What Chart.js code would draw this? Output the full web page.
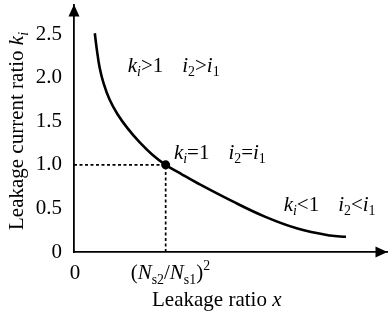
<!DOCTYPE html>
<html><head><meta charset="utf-8">
<script src="https://cdn.jsdelivr.net/npm/chart.js@4/dist/chart.umd.min.js"></script>
<style>html,body{margin:0;padding:0;background:#fff}#wrap{width:392px;height:321px}</style>
</head><body><div id="wrap"><canvas id="c" width="392" height="321"></canvas></div>
<script>
// ---- data ----
const curveX = [0.227, 0.248, 0.280, 0.324, 0.388, 0.475, 0.583, 0.712, 0.852, 1.000, 1.176, 1.359, 1.715, 2.082, 2.438, 2.794, 2.967];
const curveK = [2.51, 2.331, 2.114, 1.931, 1.749, 1.580, 1.421, 1.263, 1.120, 1.000, 0.891, 0.783, 0.589, 0.406, 0.269, 0.189, 0.175];
const pointX = [1.0];   // (Ns2/Ns1)^2
const pointK = [1.0];
const xRange = [0, 3.42];
const yRange = [0, 2.84];
const yTicks = [0, 0.5, 1.0, 1.5, 2.0, 2.5];
const yTickLabels = ['0', '0.5', '1.0', '1.5', '2.0', '2.5'];
const xTickValues = [0, 1.0];
const xTickLabels = [
  [{t:'0'}],
  [{t:'('},{t:'N',i:1},{t:'s2',sub:1},{t:'/'},{t:'N',i:1},{t:'s1',sub:1},{t:')'},{t:'2',sup:1}]
];
const xTitle = [{t:'Leakage ratio '},{t:'x',i:1}];
const yTitle = [{t:'Leakage current ratio '},{t:'k',i:1},{t:'i',i:1,sub:1}];
const regionLabels = [
  {x:0.586, k:2.069, a:[{t:'k',i:1},{t:'i',i:1,sub:1},{t:'>1'}], b:[{t:'i',i:1},{t:'2',sub:1},{t:'>'},{t:'i',i:1},{t:'1',sub:1}]},
  {x:1.090, k:1.071, a:[{t:'k',i:1},{t:'i',i:1,sub:1},{t:'=1'}], b:[{t:'i',i:1},{t:'2',sub:1},{t:'='},{t:'i',i:1},{t:'1',sub:1}]},
  {x:2.287, k:0.472, a:[{t:'k',i:1},{t:'i',i:1,sub:1},{t:'<1'}], b:[{t:'i',i:1},{t:'2',sub:1},{t:'<'},{t:'i',i:1},{t:'1',sub:1}]}
];

const FONT = '"Liberation Serif", "Times New Roman", serif';
const FS = 21;

function drawRich(ctx, segs, x, y, size, align) {
  const parts = segs.map(s => {
    const fs = (s.sub || s.sup) ? size * 0.66 : size;
    const font = (s.i ? 'italic ' : '') + fs + 'px ' + FONT;
    ctx.font = font;
    return {t: s.t, font, w: ctx.measureText(s.t).width, dy: s.sub ? size * 0.22 : (s.sup ? -size * 0.42 : 0)};
  });
  const total = parts.reduce((a, p) => a + p.w, 0);
  let cx = align === 'center' ? x - total / 2 : (align === 'right' ? x - total : x);
  ctx.textBaseline = 'alphabetic';
  ctx.textAlign = 'left';
  ctx.fillStyle = '#000';
  for (const p of parts) { ctx.font = p.font; ctx.fillText(p.t, cx, y + p.dy); cx += p.w; }
}

const decor = {
  id: 'decor',
  afterDraw(chart) {
    const ctx = chart.ctx, a = chart.chartArea;
    const xs = chart.scales.x, ys = chart.scales.y;
    ctx.save();
    ctx.fillStyle = '#000';
    // arrows
    ctx.beginPath();
    ctx.moveTo(a.left, a.top); ctx.lineTo(a.left - 5.5, a.top + 12); ctx.lineTo(a.left + 5.5, a.top + 12); ctx.closePath(); ctx.fill();
    ctx.beginPath();
    ctx.moveTo(a.right, a.bottom); ctx.lineTo(a.right - 12, a.bottom - 5.5); ctx.lineTo(a.right - 12, a.bottom + 5.5); ctx.closePath(); ctx.fill();
    // x tick labels
    xTickValues.forEach((v, i) => {
      const px = xs.getPixelForValue(v);
      const segs = xTickLabels[i];
      if (i === 0) drawRich(ctx, segs, px + 1, a.bottom + 27, FS, 'center');
      else drawRich(ctx, segs, px - 35, a.bottom + 27, FS, 'left');
    });
    // x title
    drawRich(ctx, xTitle, (a.left + a.right) / 2 + (218 - 232), a.bottom + 54, FS, 'center');
    // y title
    ctx.save();
    ctx.translate(23, 131);
    ctx.rotate(-Math.PI / 2);
    drawRich(ctx, yTitle, 0, 0, FS, 'center');
    ctx.restore();
    // region labels
    regionLabels.forEach(r => {
      const px = xs.getPixelForValue(r.x), py = ys.getPixelForValue(r.k);
      drawRich(ctx, r.a, px, py, FS, 'left');
      drawRich(ctx, r.b, px + 54.5, py, FS, 'left');
    });
    ctx.restore();
  }
};

const curve = curveX.map((x, i) => ({x, y: curveK[i]}));
const pts = pointX.map((x, i) => ({x, y: pointK[i]}));

new Chart(document.getElementById('c'), {
  type: 'line',
  data: {
    datasets: [
      {data: [{x: xRange[0], y: pointK[0]}, {x: pointX[0], y: pointK[0]}], borderColor: '#000', borderWidth: 1.7, borderDash: [3, 2.5], pointRadius: 0, clip: false},
      {data: [{x: pointX[0], y: yRange[0]}, {x: pointX[0], y: pointK[0]}], borderColor: '#000', borderWidth: 1.7, borderDash: [3, 2.5], pointRadius: 0, clip: false},
      {data: curve, borderColor: '#000', borderWidth: 2.6, tension: 0.4, pointRadius: 0, fill: false},
      {data: pts, showLine: false, pointRadius: 4.5, pointBackgroundColor: '#000', pointBorderColor: '#000', pointBorderWidth: 0}
    ]
  },
  options: {
    responsive: false,
    animation: false,
    devicePixelRatio: 1,
    layout: {padding: {top: 3.5, right: 1, left: 0, bottom: 0}},
    plugins: {legend: {display: false}, tooltip: {enabled: false}},
    scales: {
      x: {
        type: 'linear', min: xRange[0], max: xRange[1],
        grid: {display: false, drawTicks: false},
        border: {display: true, color: '#000', width: 1.8},
        ticks: {display: false},
        afterFit(s) { s.height = 69; s.paddingLeft = 0; s.paddingRight = 0; }
      },
      y: {
        type: 'linear', min: yRange[0], max: yRange[1],
        grid: {display: false, drawTicks: false},
        border: {display: true, color: '#000', width: 1.8},
        afterBuildTicks(s) { s.ticks = yTicks.map(v => ({value: v})); },
        ticks: {
          color: '#000', padding: 12,
          font: {family: FONT, size: FS},
          callback: (v, i) => yTickLabels[i]
        },
        afterFit(s) { s.width = 74; s.paddingTop = 0; s.paddingBottom = 0; }
      }
    }
  },
  plugins: [decor]
});
</script>
</body></html>
